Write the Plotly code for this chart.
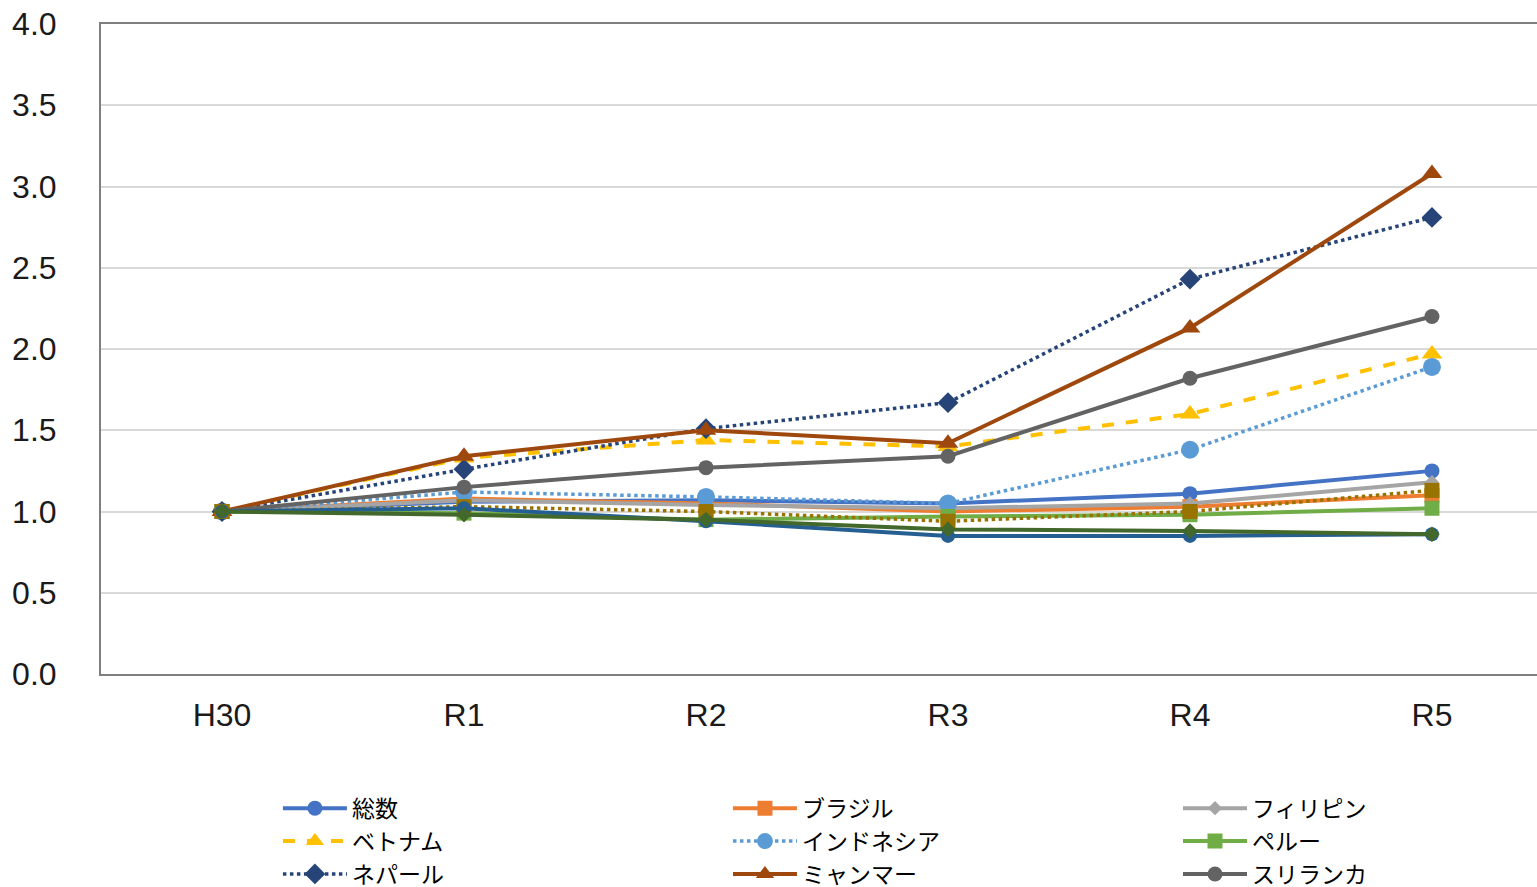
import plotly.graph_objects as go

categories = ["H30", "R1", "R2", "R3", "R4", "R5"]

s_total = [1.0, 1.06, 1.07, 1.05, 1.11, 1.25]
s_brazil = [1.0, 1.08, 1.05, 1.00, 1.03, 1.10]
s_philippines = [1.0, 1.07, 1.04, 1.02, 1.05, 1.18]
s_vietnam = [1.0, 1.33, 1.44, 1.40, 1.60, 1.97]
s_indonesia = [1.0, 1.12, 1.09, 1.05, 1.38, 1.89]
s_peru = [1.0, 0.99, 0.95, 0.97, 0.98, 1.02]
s_nepal = [1.0, 1.26, 1.51, 1.67, 2.43, 2.81]
s_myanmar = [1.0, 1.34, 1.50, 1.42, 2.13, 3.08]
s_srilanka = [1.0, 1.15, 1.27, 1.34, 1.82, 2.20]
s_extra1 = [1.0, 1.03, 1.00, 0.94, 1.00, 1.13]
s_extra2 = [1.0, 1.02, 0.94, 0.85, 0.85, 0.86]
s_extra3 = [1.0, 0.98, 0.95, 0.89, 0.88, 0.86]

names = ["総数", "ブラジル", "フィリピン", "ベトナム", "インドネシア", "ペルー",
         "ネパール", "ミャンマー", "スリランカ", "", "", ""]
series = [s_total, s_brazil, s_philippines, s_vietnam, s_indonesia, s_peru,
          s_nepal, s_myanmar, s_srilanka, s_extra1, s_extra2, s_extra3]
colors = ["#4472C4", "#ED7D31", "#A5A5A5", "#FFC000", "#5B9BD5", "#70AD47",
          "#264478", "#9E480E", "#636363", "#997300", "#255E91", "#43682B"]
dashes = ["solid", "solid", "solid", "dash", "dot", "solid",
          "dot", "solid", "solid", "dot", "solid", "solid"]
symbols = ["circle", "square", "diamond", "triangle-up", "circle", "square",
           "diamond", "triangle-up", "circle", "square", "circle", "diamond"]
msizes = [15, 15, 11, 18, 18, 15, 16, 18, 15, 15, 14, 12]
legend_ids = ["legend", "legend2", "legend3"] * 3 + [None] * 3

fig = go.Figure()
for nm, ys, c, d, sym, ms, lg in zip(names, series, colors, dashes, symbols, msizes, legend_ids):
    fig.add_trace(go.Scatter(
        x=categories, y=ys, name=nm, mode="lines+markers",
        line=dict(color=c, width=4 if d != "dot" else 3.5, dash=d),
        marker=dict(symbol=sym, size=ms, color=c),
        showlegend=lg is not None,
        legend=lg if lg is not None else "legend",
    ))

leg_common = dict(
    orientation="v", yanchor="top", xanchor="left", y=-0.1734,
    itemwidth=64, tracegroupgap=0, bgcolor="rgba(0,0,0,0)",
    font=dict(family="Noto Sans CJK JP", size=23, color="#000000"),
)

fig.update_layout(
    width=1537, height=887,
    margin=dict(l=101, r=0, t=24, b=213, autoexpand=False),
    plot_bgcolor="white", paper_bgcolor="white",
    font=dict(family="Liberation Sans, Arial, sans-serif", color="#000000"),
    xaxis=dict(
        type="category", range=[-0.5, 5.434],
        showgrid=False, showline=True, linecolor="#7f7f7f", linewidth=2,
        mirror=True, ticks="", tickfont=dict(size=32, color="#1a1a1a"),
        ticklabelstandoff=12,
    ),
    yaxis=dict(
        range=[0, 4], tickvals=[0, 0.5, 1, 1.5, 2, 2.5, 3, 3.5, 4],
        ticktext=["0.0", "0.5", "1.0", "1.5", "2.0", "2.5", "3.0", "3.5", "4.0"],
        showgrid=True, gridcolor="#d9d9d9", gridwidth=2,
        showline=True, linecolor="#7f7f7f", linewidth=2,
        zeroline=False, ticks="", tickfont=dict(size=32, color="#1a1a1a"),
        ticklabelstandoff=36,
    ),
    legend=dict(x=0.1232, **leg_common),
    legend2=dict(x=0.4366, **leg_common),
    legend3=dict(x=0.750, **leg_common),
)

fig.write_html("out.html")
